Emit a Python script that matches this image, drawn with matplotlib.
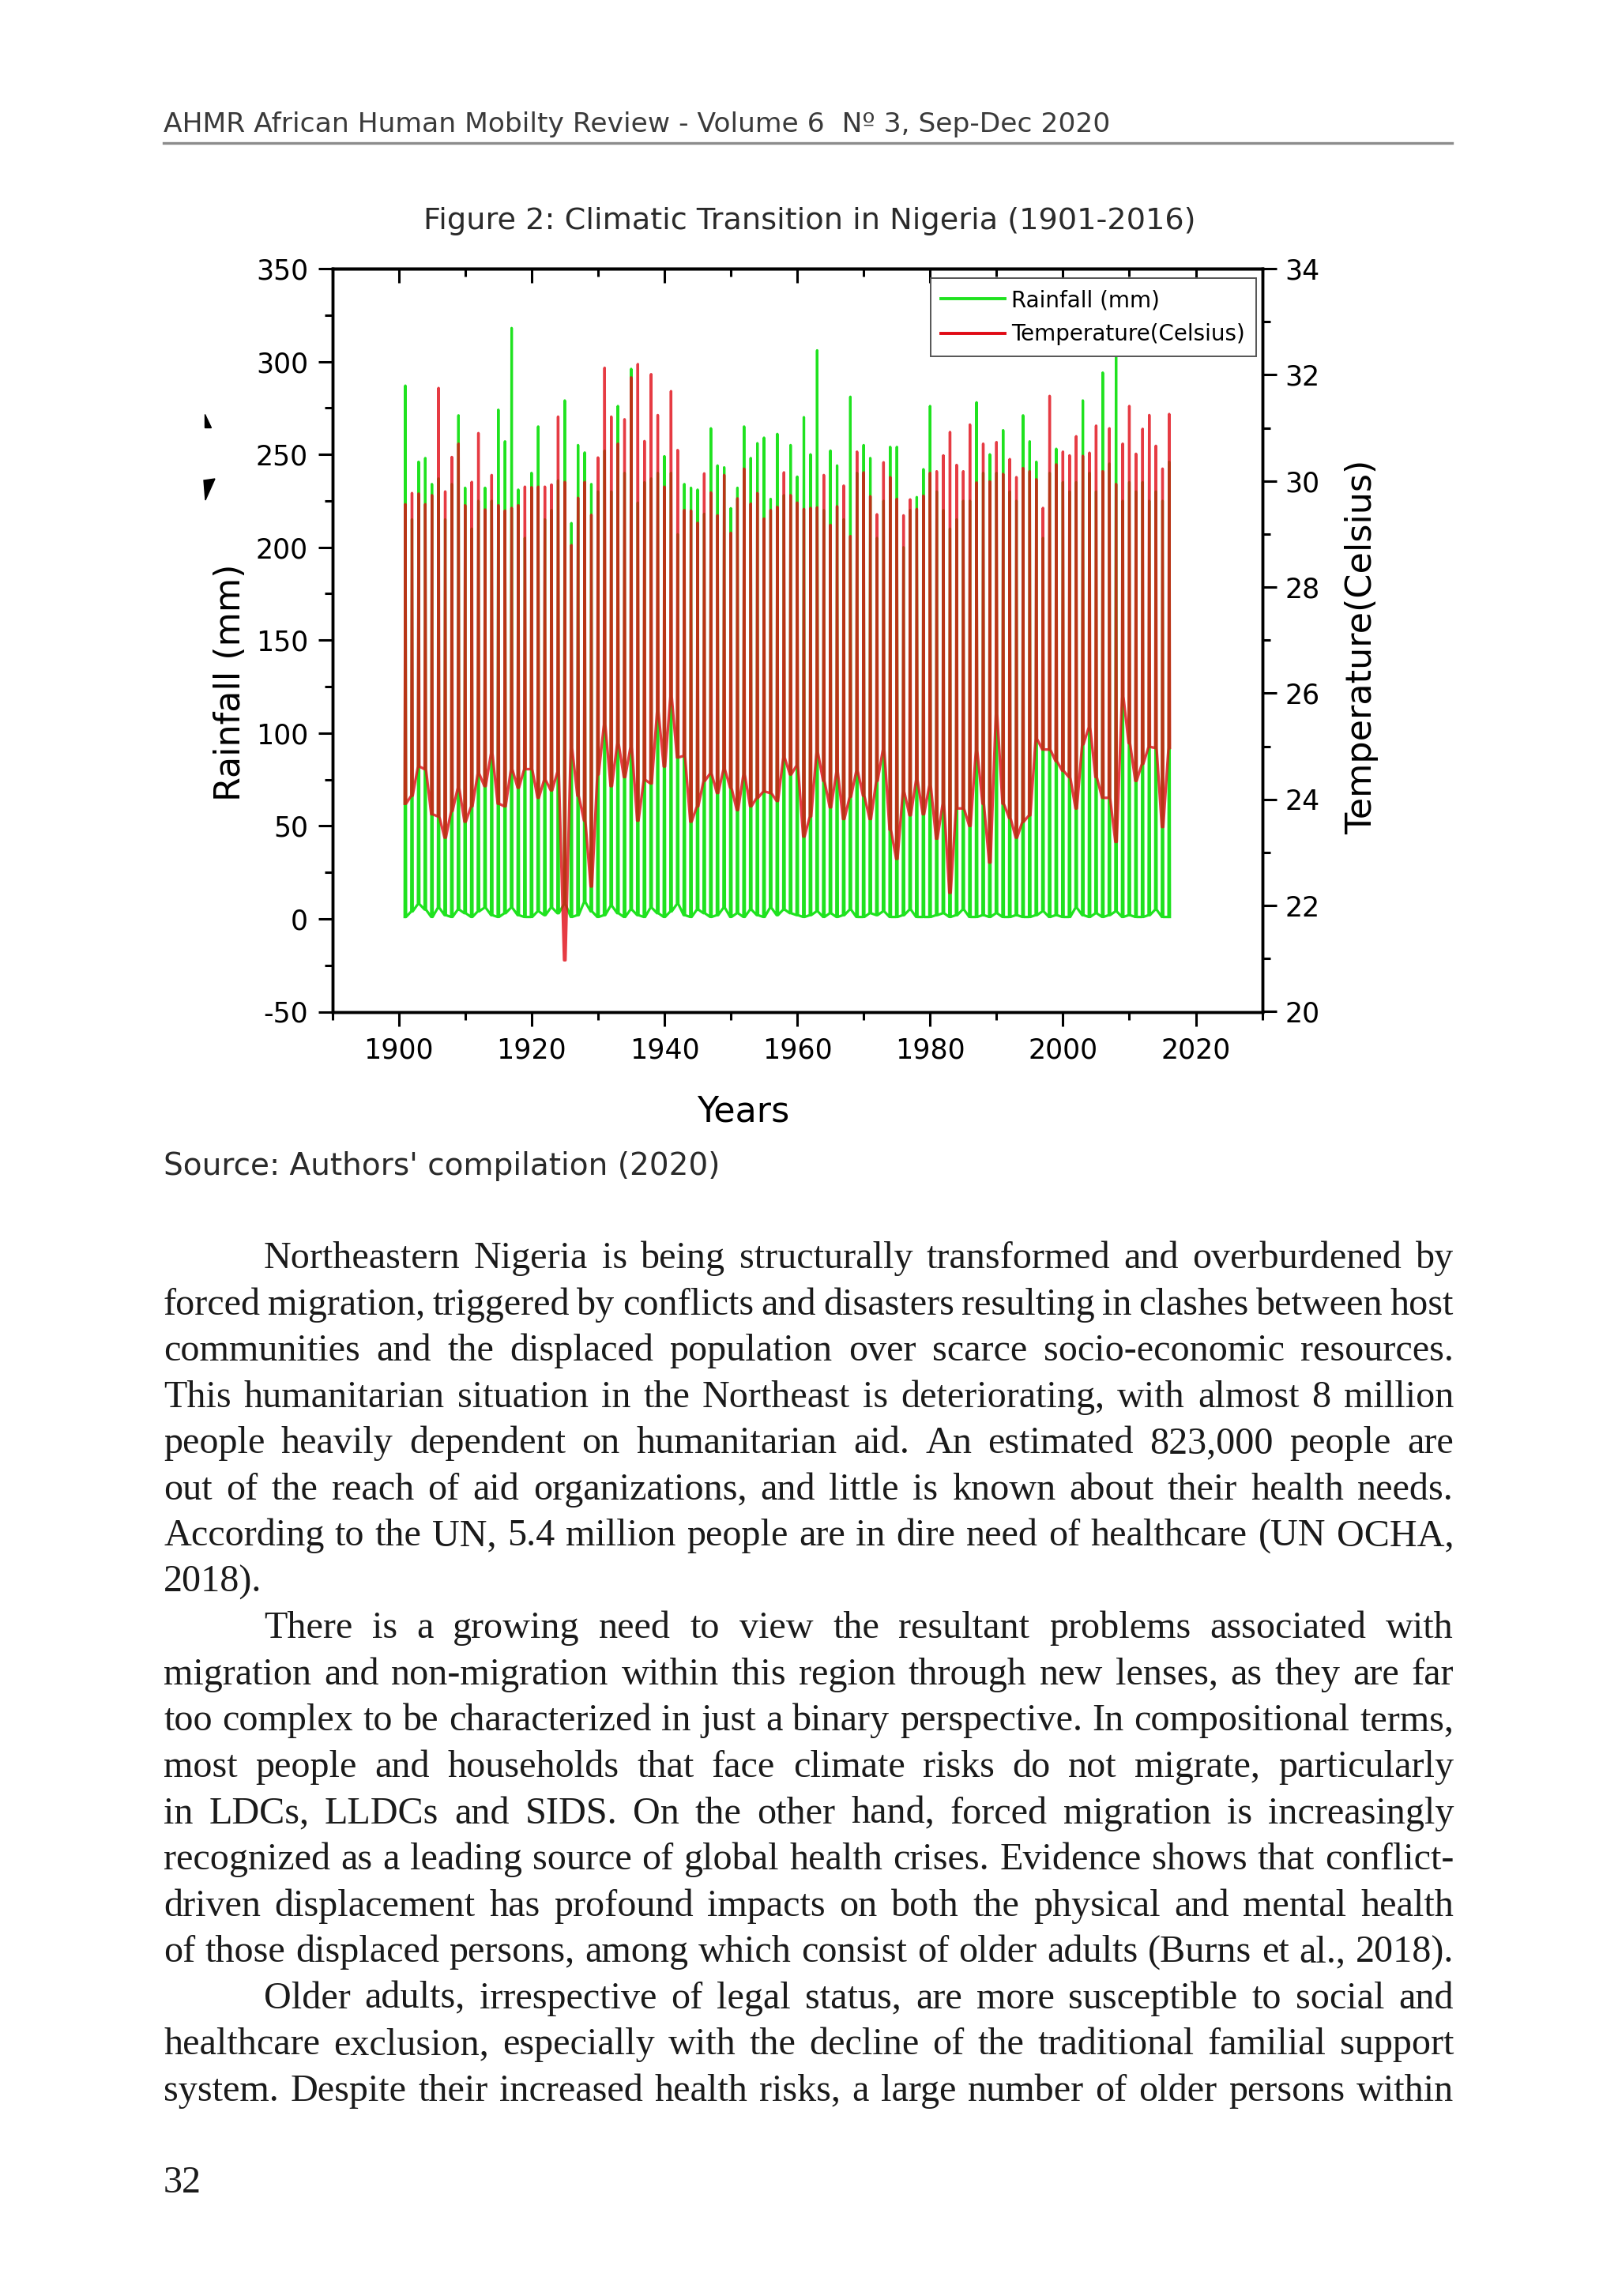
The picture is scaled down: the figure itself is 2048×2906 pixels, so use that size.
import numpy as np
import matplotlib.pyplot as plt
from matplotlib.lines import Line2D
from matplotlib.patches import Polygon
from matplotlib.ticker import MultipleLocator

"""
  Page with Figure 2: Climatic Transition in Nigeria (1901-2016)
"""
plt.rcParams['axes.unicode_minus'] = False

W, H = 2048, 2906  # page size in pixels (dpi 100)

years = np.arange(1901, 2017)

# yearly wet-season peak and dry-season low of monthly rainfall (mm)
rain_peak = [287, 215, 246, 248, 234, 237, 215, 234, 271, 232,
             210, 225, 232, 225, 274, 257, 318, 231, 205, 240,
             265, 215, 220, 236, 279, 213, 255, 251, 234, 230,
             252, 230, 276, 240, 296, 224, 235, 237, 240, 249,
             240, 207, 234, 232, 231, 218, 264, 244, 243, 221,
             232, 265, 248, 256, 259, 226, 261, 228, 255, 238,
             270, 250, 306, 220, 252, 244, 215, 281, 240, 255,
             248, 205, 225, 254, 254, 200, 220, 227, 242, 276,
             230, 220, 210, 215, 225, 225, 278, 240, 250, 240,
             263, 230, 225, 271, 257, 246, 205, 240, 253, 235,
             230, 235, 279, 240, 230, 294, 245, 305, 225, 235,
             230, 235, 225, 230, 225, 246]
rain_low = [1, 4, 8, 5, 1, 6, 2, 1, 5, 3,
            1, 4, 6, 2, 1, 3, 6, 2, 1, 1,
            4, 2, 6, 3, 8, 1, 2, 9, 4, 1,
            2, 7, 3, 1, 5, 2, 1, 6, 3, 1,
            4, 8, 2, 1, 5, 3, 1, 2, 6, 1,
            3, 1, 5, 2, 1, 6, 2, 5, 3, 2,
            1, 2, 4, 1, 3, 1, 2, 5, 1, 1,
            3, 2, 4, 1, 1, 2, 5, 1, 1, 1,
            2, 3, 1, 2, 5, 1, 1, 2, 1, 3,
            1, 1, 2, 1, 1, 2, 4, 1, 2, 1,
            1, 6, 2, 1, 3, 1, 2, 4, 1, 2,
            1, 1, 2, 5, 1, 1]

# yearly peak and low of monthly temperature (Celsius)
temp_peak = [29.56, 29.77, 29.76, 29.56, 29.73, 31.75, 29.80, 30.45, 30.70, 29.54,
             29.98, 30.90, 29.46, 30.11, 29.54, 29.44, 29.49, 29.54, 29.89, 29.88,
             29.89, 29.89, 29.93, 31.21, 29.98, 28.79, 29.68, 29.98, 29.36, 30.44,
             32.13, 31.21, 30.70, 31.16, 31.95, 32.20, 30.75, 32.01, 31.24, 29.89,
             31.69, 30.58, 29.45, 29.44, 29.21, 30.14, 29.78, 29.35, 30.11, 29.02,
             29.67, 30.23, 29.57, 29.77, 29.29, 29.45, 29.51, 30.16, 29.73, 29.59,
             29.47, 29.49, 29.50, 30.11, 29.17, 29.52, 29.91, 28.96, 30.55, 30.16,
             29.71, 29.37, 30.35, 30.07, 29.66, 29.35, 29.65, 29.47, 29.72, 30.15,
             30.18, 30.48, 30.92, 30.30, 30.18, 31.06, 29.97, 30.70, 29.99, 30.73,
             30.13, 30.41, 30.07, 30.24, 30.18, 30.03, 29.49, 31.60, 30.31, 30.55,
             30.48, 30.84, 30.47, 30.53, 31.04, 30.18, 30.99, 29.94, 30.70, 31.41,
             30.51, 30.98, 31.24, 30.66, 30.23, 31.26]
temp_low = [23.92, 24.07, 24.62, 24.57, 23.72, 23.68, 23.28, 23.78, 24.22, 23.58,
            23.87, 24.49, 24.25, 24.87, 23.92, 23.87, 24.57, 24.22, 24.57, 24.57,
            24.03, 24.37, 24.17, 24.52, 20.97, 24.97, 24.07, 23.60, 22.36, 24.47,
            25.41, 24.25, 25.06, 24.42, 24.99, 23.60, 24.37, 24.30, 25.66, 24.62,
            25.94, 24.79, 24.82, 23.58, 23.87, 24.35, 24.49, 24.12, 24.57, 24.22,
            23.80, 24.47, 23.87, 24.03, 24.15, 24.12, 23.97, 24.79, 24.47, 24.64,
            23.30, 23.68, 24.89, 24.35, 23.85, 24.52, 23.63, 24.05, 24.54, 24.07,
            23.63, 24.35, 24.94, 23.43, 22.88, 24.15, 23.70, 24.37, 23.72, 24.27,
            23.26, 23.92, 22.24, 23.83, 23.83, 23.50, 24.92, 23.92, 22.81, 25.61,
            23.92, 23.65, 23.28, 23.58, 23.70, 25.14, 24.94, 24.94, 24.72, 24.54,
            24.42, 23.83, 25.04, 25.36, 24.42, 24.03, 24.03, 23.20, 25.94, 25.06,
            24.35, 24.67, 24.99, 24.97, 23.48, 24.97]

# low - peak - low for every year, so each year becomes one narrow spike
offs = np.array([-0.1, 0.0, 0.1])
x = (years[:, None] + offs).ravel()
rain = np.column_stack([rain_low, rain_peak, rain_low]).ravel()
temp = np.column_stack([temp_low, temp_peak, temp_low]).ravel()

header = 'AHMR African Human Mobilty Review - Volume 6  N\u00ba 3, Sep-Dec 2020'
caption = 'Figure 2: Climatic Transition in Nigeria (1901-2016)'
source = "Source: Authors' compilation (2020)"
paragraphs = [
    ['Northeastern Nigeria is being structurally transformed and overburdened by',
     'forced migration, triggered by conflicts and disasters resulting in clashes between host',
     'communities and the displaced population over scarce socio-economic resources.',
     'This humanitarian situation in the Northeast is deteriorating, with almost 8 million',
     'people heavily dependent on humanitarian aid. An estimated 823,000 people are',
     'out of the reach of aid organizations, and little is known about their health needs.',
     'According to the UN, 5.4 million people are in dire need of healthcare (UN OCHA,',
     '2018).'],
    ['There is a growing need to view the resultant problems associated with',
     'migration and non-migration within this region through new lenses, as they are far',
     'too complex to be characterized in just a binary perspective. In compositional terms,',
     'most people and households that face climate risks do not migrate, particularly',
     'in LDCs, LLDCs and SIDS. On the other hand, forced migration is increasingly',
     'recognized as a leading source of global health crises. Evidence shows that conflict-',
     'driven displacement has profound impacts on both the physical and mental health',
     'of those displaced persons, among which consist of older adults (Burns et al., 2018).'],
    ['Older adults, irrespective of legal status, are more susceptible to social and',
     'healthcare exclusion, especially with the decline of the traditional familial support',
     'system. Despite their increased health risks, a large number of older persons within'],
]

SANS_N = ['Liberation Sans Narrow', 'DejaVu Sans']
SERIF = ['Liberation Serif', 'DejaVu Serif']

fig = plt.figure(figsize=(W / 100, H / 100), dpi=100, facecolor='white')
renderer = fig.canvas.get_renderer()


def fx(px):
    return px / W


def fy(py):
    return 1 - py / H


def fit_text(s, x, y, width, family, color='#333333', ha='left'):
    t = fig.text(fx(x), fy(y), s, fontsize=20, family=family, color=color,
                 ha=ha, va='baseline')
    w = t.get_window_extent(renderer).width
    t.set_fontsize(20 * width / w)
    return t


# page header and rule
fit_text(header, 207, 167, 1198, SANS_N, color='#3a3a3a')
fig.add_artist(Line2D([fx(207), fx(1838)], [fy(181), fy(181)], color='#8c8c8c', lw=2.4))
fit_text(caption, 1025, 290, 979, SANS_N, color='#2a2a2a', ha='center')
fit_text(source, 207, 1487, 705, SANS_N, color='#2a2a2a')

# ---- chart ----
ax = fig.add_axes([fx(420.6), fy(1280.5), 1177 / W, 940.5 / H])
ln_rain, = ax.plot(x, rain, color='#1fe21f', lw=2.3, label='Rainfall (mm)')
ax.set_xlim(1890, 2030)
ax.set_ylim(-50, 350)

ax2 = ax.twinx()
ln_temp, = ax2.plot(x, temp, color=(0.88, 0.04, 0.08), alpha=0.8, lw=2.4,
                    label='Temperature(Celsius)')
ax2.set_ylim(20, 34)

ax.xaxis.set_major_locator(MultipleLocator(20))
ax.xaxis.set_minor_locator(MultipleLocator(10))
ax.yaxis.set_major_locator(MultipleLocator(50))
ax.yaxis.set_minor_locator(MultipleLocator(25))
ax2.yaxis.set_major_locator(MultipleLocator(2))
ax2.yaxis.set_minor_locator(MultipleLocator(1))

ax.tick_params(which='both', direction='out', width=2.2, labelsize=25,
               top=False, right=False, colors='black')
ax.tick_params(which='major', length=13)
ax.tick_params(which='minor', length=7)
ax.tick_params(axis='y', pad=9)
ax.tick_params(axis='x', pad=10)
ax2.tick_params(which='both', direction='out', width=2.2, labelsize=25, pad=8)
ax2.tick_params(which='major', length=13)
ax2.tick_params(which='minor', length=7)

top = ax.secondary_xaxis('top')
top.xaxis.set_major_locator(MultipleLocator(20))
top.xaxis.set_minor_locator(MultipleLocator(10))
top.tick_params(which='both', direction='in', width=2.2, labeltop=False)
top.tick_params(which='major', length=13)
top.tick_params(which='minor', length=7)
top.spines['top'].set_linewidth(2.5)

for a in (ax, ax2):
    for sp in a.spines.values():
        sp.set_linewidth(2.5)

# axis titles
fig.text(fx(291), fy(864), 'Rainfall (mm)', rotation=90, fontsize=32,
         ha='center', va='center')
fig.text(fx(1724), fy(819), 'Temperature(Celsius)', rotation=90, fontsize=32,
         ha='center', va='center')
fig.text(fx(941), fy(1407), 'Years', fontsize=32, ha='center', va='center')

leg = ax2.legend([ln_rain, ln_temp], ['Rainfall (mm)', 'Temperature(Celsius)'],
                 loc='upper right', bbox_to_anchor=(0.9935, 0.987),
                 fontsize=20, handlelength=2.9, handletextpad=0.3,
                 borderpad=0.5, labelspacing=0.55, fancybox=False,
                 framealpha=1, edgecolor='#555555', borderaxespad=0)
leg.get_frame().set_linewidth(1.4)
for lh in leg.get_lines():
    lh.set_linewidth(2.8)
    lh.set_alpha(1)

# two stray black marks left of the rainfall axis
fig.add_artist(Polygon([(fx(259), fy(524)), (fx(259), fy(541)), (fx(267), fy(541))],
                       closed=True, transform=fig.transFigure, color='black'))
fig.add_artist(Polygon([(fx(258), fy(608)), (fx(272), fy(606)), (fx(260), fy(633))],
                       closed=True, transform=fig.transFigure, color='black'))

# ---- body text, justified ----
X0, X1, INDENT = 207, 1840, 334
BASE0, STEP = 1605, 58.55


def words_width(words, fs):
    total = 0
    for w in words:
        t = fig.text(0, 0, w, fontsize=fs, family=SERIF)
        total += t.get_window_extent(renderer).width
        t.remove()
    return total


# body size: the tightest line keeps spaces of about 0.2 em
fs_try = []
for para in paragraphs:
    for i, line in enumerate(para):
        if line == '2018).':
            continue
        wds = line.split(' ')
        start = INDENT if i == 0 else X0
        ww = words_width(wds, 10) + (len(wds) - 1) * 0.2 * 10 * 100 / 72
        fs_try.append(10 * (X1 - start) / ww)
BODY_FS = min(fs_try)

row = 0
for para in paragraphs:
    for i, line in enumerate(para):
        wds = line.split(' ')
        start = INDENT if i == 0 else X0
        base = BASE0 + row * STEP
        widths = []
        for w in wds:
            t = fig.text(0, 0, w, fontsize=BODY_FS, family=SERIF)
            widths.append(t.get_window_extent(renderer).width)
            t.remove()
        if line == '2018).' or len(wds) == 1:
            gap = 0.25 * BODY_FS * 100 / 72
        else:
            gap = (X1 - start - sum(widths)) / (len(wds) - 1)
        xp = start
        for w, wd in zip(wds, widths):
            fig.text(fx(xp), fy(base), w, fontsize=BODY_FS, family=SERIF,
                     color='#1a1a1a', va='baseline')
            xp += wd + gap
        row += 1

fig.text(fx(207), fy(2775), '32', fontsize=BODY_FS, family=SERIF,
         color='#1a1a1a', va='baseline')

fig.savefig('out.png', dpi=100, facecolor='white')
